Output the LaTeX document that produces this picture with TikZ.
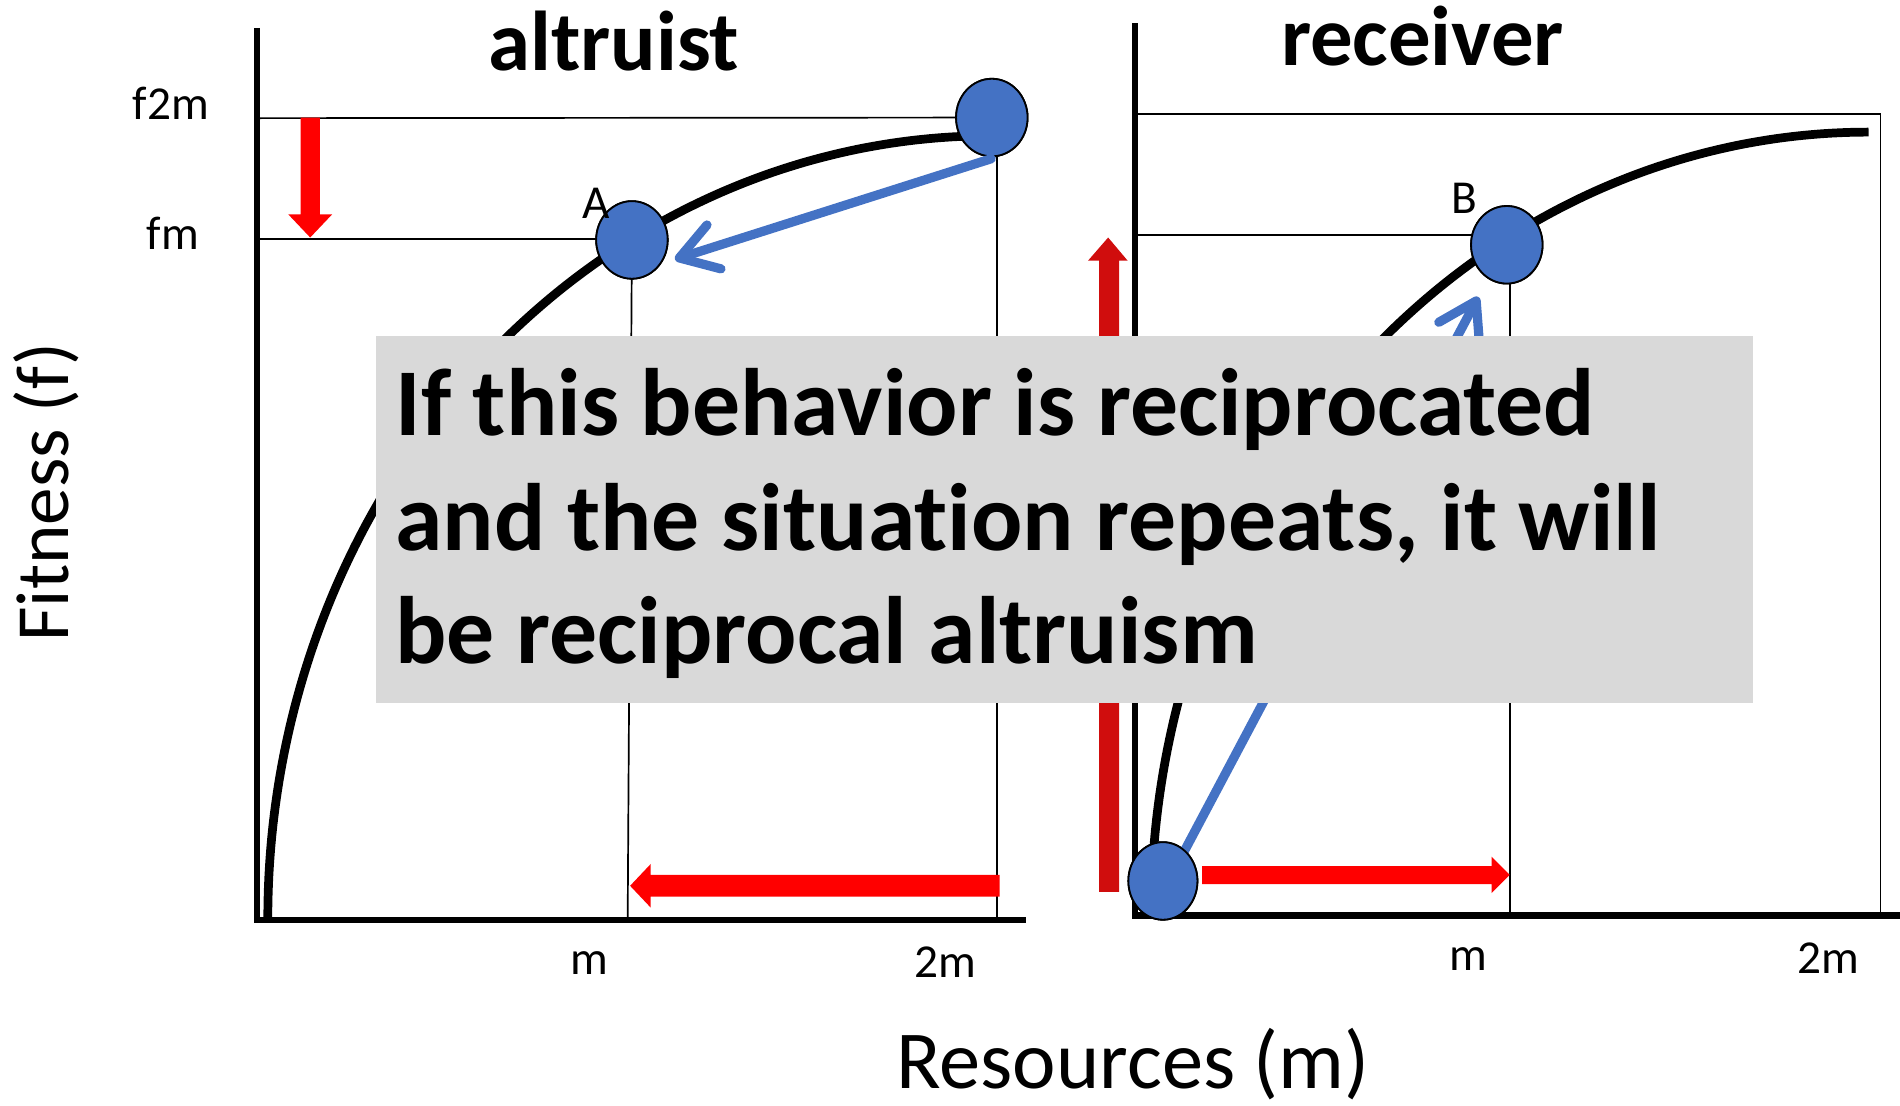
\documentclass[tikz,border=0pt]{standalone}
\usepackage{fontspec}
\setmainfont{Carlito}[Ligatures=NoCommon]
\usetikzlibrary{shapes.geometric,arrows.meta}
\definecolor{dotblue}{HTML}{4472C4}
\definecolor{boxgray}{HTML}{D9D9D9}
\definecolor{brightred}{HTML}{FF0000}
\definecolor{deepred}{HTML}{D00D0D}
\begin{document}
\begin{tikzpicture}[x=0.5pt,y=-0.5pt,
  axisline/.style={line width=2.6pt},
  guide/.style={line width=0.7pt},
  fcurve/.style={line width=3.6pt},
  dot/.style={ellipse,draw=black,line width=0.75pt,fill=dotblue,minimum width=29.5pt,minimum height=32pt,inner sep=0pt},
  bluearrow/.style={draw=dotblue,line width=3.8pt,line cap=round,-{Straight Barb[length=15pt,width=19pt,round]}},
  smalllab/.style={inner sep=0pt,anchor=base,font=\fontsize{19.5}{23}\selectfont},
  titlelab/.style={inner sep=0pt,anchor=base,font=\fontsize{35}{40}\selectfont\bfseries},
  axislab/.style={inner sep=0pt,anchor=base},
  boxtext/.style={inner sep=0pt,anchor=base west,font=\fontsize{39.5}{47}\selectfont\bfseries}]
\useasboundingbox (0,0) rectangle (1568,912);

% ---------- left panel (altruist) ----------
\coordinate (Ltop) at (212,23);
\coordinate (Lorig) at (212,759);
\coordinate (Lend) at (847,759);
\coordinate (Lf2m) at (212,97.5);
\coordinate (Lfm) at (212,197.5);
\coordinate (Lfmend) at (500,197.5);
\coordinate (LmBot) at (518,759);
\coordinate (L2mTop) at (823,128);
\coordinate (L2mBot) at (823,759);

\node[dot] (P2m) at (818.5,97) {};
\node[dot] (PA) at (521.5,198) {};

\draw[guide] (Lf2m) -- (P2m.center);
\draw[guide] (Lfm) -- (Lfmend);
\draw[guide] (PA.center) -- (LmBot);
\draw[guide] (L2mTop) -- (L2mBot);
\draw[fcurve] plot[domain=180:90,samples=90,smooth] ({818+597*cos(\x)},{758-646*sin(\x)});
\draw[axisline] (Ltop) -- (Lorig) -- (Lend);

\node[dot] at (P2m) {};
\node[dot] at (PA) {};

\coordinate (bl1) at (818,131);
\coordinate (bl2) at (557,214);
\draw[bluearrow] (bl1) -- (bl2);

% red arrows (left panel)
\fill[brightred] (248,97) -- (264,97) -- (264,177) -- (274,177) -- (256,196) -- (238,177) -- (248,177) -- cycle;
\fill[brightred] (825,722) -- (825,740) -- (537,740) -- (537,749) -- (520,731) -- (537,713) -- (537,722) -- cycle;

% ---------- right panel (receiver) ----------
\coordinate (Rtop) at (936.5,19);
\coordinate (Rorig) at (936.5,755.5);
\coordinate (Rend) at (1568,755.5);
\coordinate (Rf2m) at (936.5,94);
\coordinate (Rcorner) at (1552,94);
\coordinate (Rcbot) at (1552,755.5);
\coordinate (Rfm) at (936.5,194);
\coordinate (Rfmend) at (1225,194);
\coordinate (RmTop) at (1246,232);
\coordinate (RmBot) at (1246,755.5);

\node[dot] (PB) at (1243.5,202) {};
\node[dot,minimum width=28.5pt] (P0) at (959.7,727) {};

\draw[guide] (Rf2m) -- (Rcorner) -- (Rcbot);
\draw[guide] (Rfm) -- (Rfmend);
\draw[guide] (RmTop) -- (RmBot);
\draw[fcurve] plot[domain=180:90,samples=90,smooth] ({1542+592*cos(\x)},{755-646*sin(\x)});
\draw[axisline] (Rtop) -- (Rorig) -- (Rend);

\fill[deepred] (907,736) -- (923.5,736) -- (923.5,215) -- (930.5,215) -- (914.5,196) -- (898,215) -- (907,215) -- cycle;

\coordinate (br1) at (976,705);
\coordinate (br2) at (1220,245);
\draw[bluearrow] (br1) -- (br2);

\node[dot] at (PB) {};
\node[dot,minimum width=28.5pt] at (P0) {};

\fill[brightred] (992,714.7) -- (1231,714.7) -- (1231,707) -- (1246,722) -- (1231,737) -- (1231,729.6) -- (992,729.6) -- cycle;

% ---------- labels ----------
\node[titlelab] (tAlt) at (506.5,58) {altruist};
\node[titlelab] (tRec) at (1174,54) {receiver};
\node[smalllab] (lf2m) at (141,99) {f2m};
\node[smalllab] (lfm) at (142.5,206) {fm};
\node[smalllab] (lA) at (492,180) {A};
\node[smalllab] (lB) at (1208.5,176) {B};
\node[smalllab] (lm1) at (486,804) {m};
\node[smalllab] (l2m1) at (780,807) {2m};
\node[smalllab] (lm2) at (1212,800.6) {m};
\node[smalllab] (l2m2) at (1508.5,803) {2m};
\node[axislab,font=\fontsize{34}{40}\selectfont] (xlab) at (935,898) {Resources (m)};
\node[axislab,rotate=90,font=\fontsize{31}{36}\selectfont] (ylab) at (56.5,406) {Fitness (f)};

% ---------- text box ----------
\node[fill=boxgray,minimum width=568pt,minimum height=151.5pt,inner sep=0pt,anchor=north west] (box) at (310,277) {};
\node[boxtext] (t1) at (326,359) {If this behavior is reciprocated};
\node[boxtext] (t2) at (326,454) {and the situation repeats, it will};
\node[boxtext] (t3) at (326,547.5) {be reciprocal altruism};
\end{tikzpicture}
\end{document}
